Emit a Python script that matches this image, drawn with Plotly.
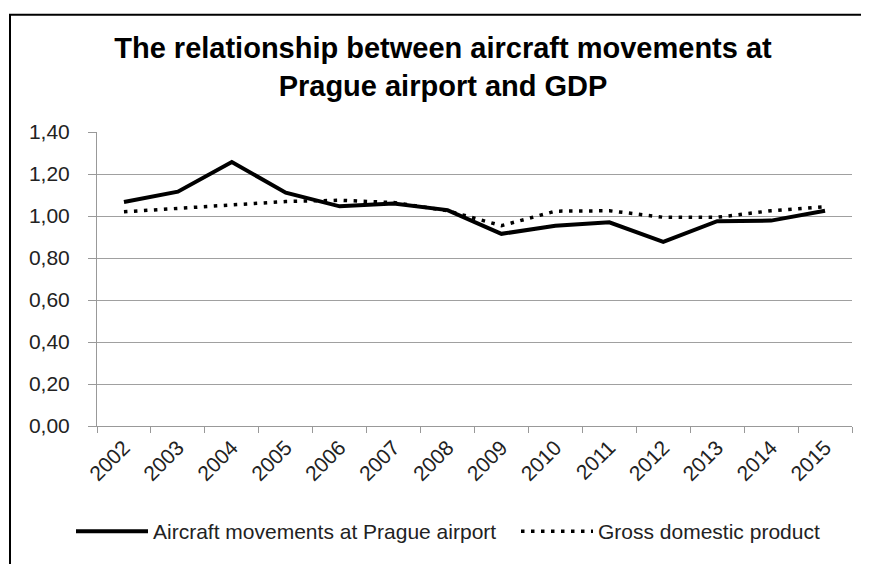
import plotly.graph_objects as go

years = ["2002", "2003", "2004", "2005", "2006", "2007", "2008",
         "2009", "2010", "2011", "2012", "2013", "2014", "2015"]
aircraft = [1.067, 1.116, 1.257, 1.111, 1.046, 1.060, 1.028,
            0.915, 0.954, 0.970, 0.877, 0.975, 0.978, 1.025]
gdp = [1.020, 1.036, 1.055, 1.069, 1.075, 1.064, 1.025,
       0.954, 1.023, 1.025, 0.994, 0.994, 1.025, 1.044]
y_ticks = [0.0, 0.2, 0.4, 0.6, 0.8, 1.0, 1.2, 1.4]

# page body has an 8px margin; the figure is drawn in its own coordinates
OFF = 8
W, H = 869 - OFF, 564 - OFF
ML, MR, MT, MB = 89, 17, 124, 131
pw = W - ML - MR
ph = H - MT - MB

def px_x(px):
    return (px - OFF - ML) / pw

def px_y(py):
    return (H - MB - (py - OFF)) / ph

fig = go.Figure()
fig.add_trace(go.Scatter(
    x=years, y=aircraft, mode="lines",
    name="Aircraft movements at Prague airport",
    line=dict(color="black", width=4),
    legend="legend",
))
fig.add_trace(go.Scatter(
    x=years, y=gdp, mode="lines",
    name="Gross domestic product",
    line=dict(color="black", width=3.5, dash="3.5px,6.5px"),
    legend="legend2",
))

leg_common = dict(
    orientation="h", xanchor="left", yanchor="middle",
    font=dict(size=21, color="#222"), itemwidth=72,
    bgcolor="rgba(0,0,0,0)",
)

fig.update_layout(
    width=W, height=H,
    margin=dict(l=ML, r=MR, t=MT, b=MB),
    paper_bgcolor="white", plot_bgcolor="white",
    separators=", ",
    font=dict(family="Liberation Sans, Arial, sans-serif", color="#222", size=21),
    title=dict(
        text="<b>The relationship between aircraft movements at<br>Prague airport and GDP</b>",
        x=px_x(443), xref="paper", xanchor="center",
        y=1 - 50 / H, yanchor="middle", yref="container",
        font=dict(size=29, color="black"),
    ),
    showlegend=True,
    legend=dict(x=px_x(71), y=px_y(541), **leg_common),
    legend2=dict(x=px_x(516), y=px_y(541), **leg_common),
    xaxis=dict(
        type="category", tickangle=-45, tickson="boundaries",
        ticks="outside", ticklen=6, tickcolor="#999", tickwidth=1,
        showline=True, linecolor="#999", linewidth=1,
        showgrid=False, tickfont=dict(size=21, color="#222"),
        range=[-0.5, 13.5], automargin=False,
    ),
    yaxis=dict(
        range=[0, 1.4], tickvals=y_ticks, tickformat=".2f",
        ticks="outside", ticklen=8, tickcolor="#999", tickwidth=1,
        showline=True, linecolor="#999", linewidth=1,
        showgrid=True, gridcolor="#a0a0a0", gridwidth=1,
        zeroline=False, ticklabelstandoff=14, automargin=False,
        tickfont=dict(size=21, color="#222"),
    ),
    shapes=[dict(
        type="rect", xref="paper", yref="paper",
        x0=px_x(10), x1=px_x(866), y0=px_y(600), y1=px_y(12),
        line=dict(color="black", width=2), fillcolor="rgba(0,0,0,0)",
        layer="above",
    )],
)

fig.write_html("out.html")
